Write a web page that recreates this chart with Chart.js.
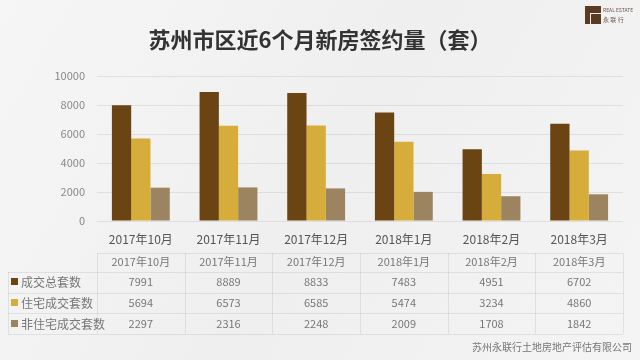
<!DOCTYPE html>
<html lang="zh">
<head>
<meta charset="UTF-8">
<title>苏州市区近6个月新房签约量</title>
<script src="https://cdn.jsdelivr.net/npm/chart.js"></script>
<style>
  html, body { margin: 0; padding: 0; background: #f2f2f2; }
  #wrap { width: 640px; height: 360px; position: relative; }
</style>
</head>
<body>
<div id="wrap"><canvas id="salesChart" width="640" height="360"></canvas></div>
<script>
const months = ['2017年10月', '2017年11月', '2017年12月', '2018年1月', '2018年2月', '2018年3月'];
const seriesNames = ['成交总套数', '住宅成交套数', '非住宅成交套数'];
const totalSets = [7991, 8889, 8833, 7483, 4951, 6702];
const residentialSets = [5694, 6573, 6585, 5474, 3234, 4860];
const nonResidentialSets = [2297, 2316, 2248, 2009, 1708, 1842];
const yMax = 10000;
const yStep = 2000;

const colors = ['#6a4412', '#d6ac3a', '#9c8460'];
const FONT = '"Noto Sans CJK SC", "Noto Sans", sans-serif';

// background, title, table under the axis, footer and logo
const decor = {
    id: 'decor',
    beforeDraw(chart) {
        const c = chart.ctx;
        c.save();
        const g = c.createLinearGradient(0, 0, 640, 360);
        g.addColorStop(0, '#f6f6f6');
        g.addColorStop(0.5, '#efefef');
        g.addColorStop(1, '#f4f4f4');
        c.fillStyle = g;
        c.fillRect(0, 0, chart.width, chart.height);
        c.restore();
    },
    afterDraw(chart) {
        const c = chart.ctx;
        const x = chart.scales.x;
        const area = chart.chartArea;
        const colW = x.width / months.length;
        c.save();

        // title
        c.fillStyle = '#333';
        c.font = 'bold 22px ' + FONT;
        c.textAlign = 'center';
        c.textBaseline = 'middle';
        c.fillText('苏州市区近6个月新房签约量（套）', 320, 40);

        // table lines
        c.strokeStyle = 'rgba(0,0,0,0.08)';
        c.lineWidth = 1;
        const rowLines = [272, 293, 313, 334];
        c.beginPath();
        c.moveTo(area.left, 253.5); c.lineTo(area.right, 253.5);
        rowLines.forEach(y => { c.moveTo(8, y + 0.5); c.lineTo(area.right, y + 0.5); });
        for (let i = 0; i <= months.length; i++) {
            const bx = Math.round(x.getPixelForValue(i) - colW / 2) + 0.5;
            c.moveTo(bx, 253); c.lineTo(bx, 334);
        }
        c.moveTo(8.5, 272); c.lineTo(8.5, 334);
        c.stroke();

        // header + values
        c.font = '11px ' + FONT;
        c.fillStyle = '#777';
        months.forEach((m, i) => c.fillText(m, x.getPixelForValue(i), 262));
        const rows = [totalSets, residentialSets, nonResidentialSets];
        const rowY = [282, 303, 324];
        rows.forEach((vals, r) => {
            vals.forEach((v, i) => c.fillText(String(v), x.getPixelForValue(i), rowY[r]));
            c.fillStyle = colors[r];
            c.fillRect(11, rowY[r] - 4, 7, 7);
            c.fillStyle = '#777';
            c.textAlign = 'left';
            c.font = '12px ' + FONT;
            c.fillText(seriesNames[r], 21, rowY[r]);
            c.font = '11px ' + FONT;
            c.textAlign = 'center';
        });

        // footer
        c.textAlign = 'right';
        c.font = '10px ' + FONT;
        c.fillStyle = '#777';
        c.fillText('苏州永联行土地房地产评估有限公司', 632, 347);

        // logo
        c.fillStyle = '#5a3a22';
        c.fillRect(585, 6, 16, 18);
        c.fillStyle = '#efefef';
        c.fillRect(590, 13, 1, 11);
        c.fillRect(590, 13, 11, 1);
        c.fillStyle = '#6a5a4a';
        c.textAlign = 'left';
        c.font = '5px ' + FONT;
        c.fillText('REAL ESTATE', 603, 10);
        c.font = '6px ' + FONT;
        c.fillText('永 联 行', 603, 20);
        c.restore();
    }
};

new Chart(document.getElementById('salesChart'), {
    type: 'bar',
    data: {
        labels: months,
        datasets: [
            { label: seriesNames[0], data: totalSets, backgroundColor: colors[0] },
            { label: seriesNames[1], data: residentialSets, backgroundColor: colors[1] },
            { label: seriesNames[2], data: nonResidentialSets, backgroundColor: colors[2] }
        ]
    },
    options: {
        responsive: false,
        animation: false,
        layout: { padding: { top: 76, right: 17, bottom: 100, left: 0 } },
        datasets: { bar: { categoryPercentage: 0.66, barPercentage: 1.0 } },
        plugins: {
            legend: { display: false },
            title: { display: false },
            tooltip: { enabled: false }
        },
        scales: {
            x: {
                grid: { display: false, drawTicks: false },
                border: { display: false },
                ticks: { color: '#555', font: { size: 12, family: FONT }, padding: 11 },
                afterFit(scale) { scale.height = 39; }
            },
            y: {
                min: 0,
                max: yMax,
                grid: { color: 'rgba(0,0,0,0.08)', drawTicks: false },
                border: { display: false },
                ticks: {
                    stepSize: yStep, color: '#888', font: { size: 11, family: FONT }, padding: 12,
                    callback: v => String(v)
                },
                afterFit(scale) { scale.width = 97; }
            }
        }
    },
    plugins: [decor]
});
</script>
</body>
</html>
